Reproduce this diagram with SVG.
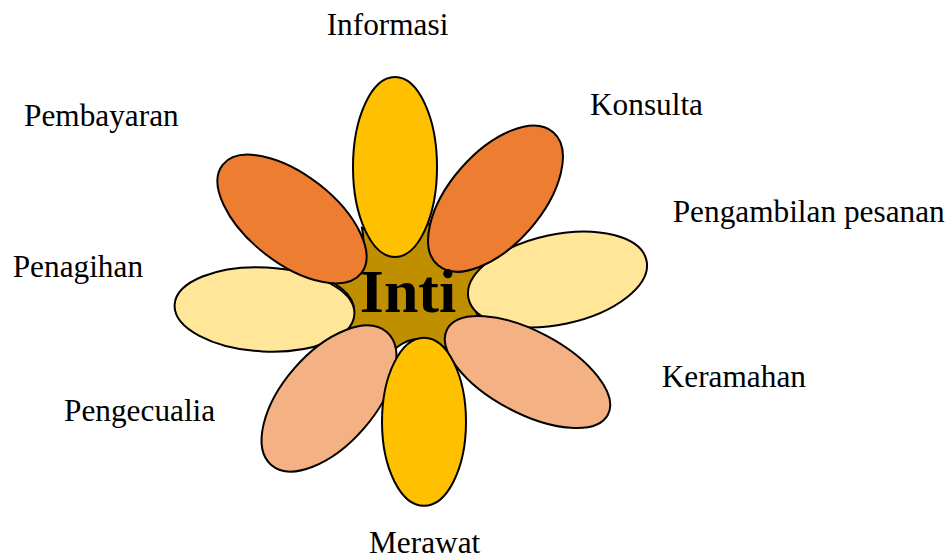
<svg xmlns="http://www.w3.org/2000/svg" width="952" height="560" viewBox="0 0 952 560">
<style>
.lbl{font-family:"Liberation Serif","Times New Roman",serif;font-size:31.3px;fill:#000}
.p{stroke:#000;stroke-width:2}
.gold{fill:#FFC000}
.orange{fill:#ED7D31}
.pale{fill:#FFE699}
.salmon{fill:#F4B183}
</style>
<rect width="952" height="560" fill="#fff"/>
<g id="inti">
<path class="p" fill="#BF8F00" d="M335,284 Q370,267 362,228 Q402,245 432,222 Q444,257 496,256 Q461,288 480,320 Q444,320 448,350 Q419,329 396,348 Q385,322 348,330 Q365,302 335,284 Z"/>
</g>
<g id="petal-penagihan"><ellipse class="p pale" cx="264.5" cy="309.5" rx="90" ry="42" transform="rotate(3 264.5 309.5)"/></g>
<g id="petal-pengambilan"><ellipse class="p pale" cx="557.5" cy="279.5" rx="91" ry="45" transform="rotate(-12 557.5 279.5)"/></g>
<g id="petal-pembayaran"><ellipse class="p orange" cx="292" cy="219" rx="88" ry="44" transform="rotate(38 292 219)"/></g>
<g id="petal-konsulta"><ellipse class="p orange" cx="495.5" cy="198.7" rx="88" ry="46" transform="rotate(-49 495.5 198.7)"/></g>
<g id="petal-pengecualia"><ellipse class="p salmon" cx="329" cy="398.5" rx="88" ry="46" transform="rotate(-49 329 398.5)"/></g>
<g id="petal-keramahan"><ellipse class="p salmon" cx="527.5" cy="372" rx="91" ry="41" transform="rotate(28 527.5 372)"/></g>
<g id="petal-informasi"><ellipse class="p gold" cx="395" cy="167" rx="42" ry="90"/></g>
<g id="petal-merawat"><ellipse class="p gold" cx="424" cy="421.8" rx="42" ry="84"/></g>
<g id="inti-label"><text x="408" y="312" text-anchor="middle" font-family="'Liberation Serif','Times New Roman',serif" font-weight="bold" font-size="62">Inti</text></g>
<g id="labels">
<text class="lbl" x="326.7" y="35">Informasi</text>
<text class="lbl" x="24" y="126">Pembayaran</text>
<text class="lbl" x="590" y="115">Konsulta</text>
<text class="lbl" x="672.7" y="222">Pengambilan pesanan</text>
<text class="lbl" x="12.7" y="277">Penagihan</text>
<text class="lbl" x="64" y="420.7">Pengecualia</text>
<text class="lbl" x="661.7" y="387">Keramahan</text>
<text class="lbl" x="369" y="553">Merawat</text>
</g>
<g id="connectors"></g>
</svg>
